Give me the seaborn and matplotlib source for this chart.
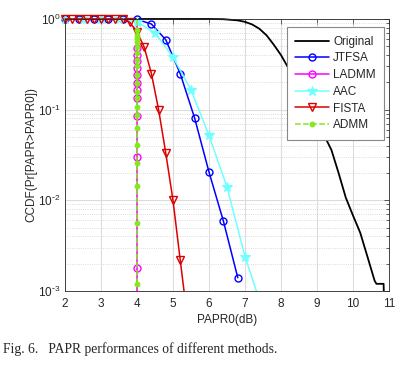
import numpy as np
import pandas as pd
import matplotlib
matplotlib.use("Agg")
import matplotlib.pyplot as plt
import seaborn as sns
from matplotlib.patches import Rectangle
from matplotlib.lines import Line2D
from matplotlib.ticker import FixedLocator, FixedFormatter

# ---- data ----
orig_x = [2, 3, 4, 5, 6, 6.4, 6.8, 7.0, 7.2, 7.4, 7.6, 7.8, 8.0, 8.2, 8.6, 9.0, 9.2,
          9.4, 9.6, 9.8, 10.0, 10.2, 10.4, 10.6, 10.65, 10.85, 10.9]
orig_y = [1, 1, 1, 1, 1, 0.995, 0.965, 0.93, 0.87, 0.78, 0.66, 0.52, 0.40, 0.29, 0.15,
          0.078, 0.052, 0.036, 0.02, 0.0107, 0.0068, 0.0044, 0.0024, 0.0013, 0.0012,
          0.0012, 0.0002]

jtfsa_x = [2.0, 2.4, 2.8, 3.2, 3.6, 4.0, 4.4, 4.8, 5.2, 5.6, 6.0, 6.4, 6.8]
jtfsa_y = [1, 1, 1, 1, 1, 0.99, 0.88, 0.59, 0.25, 0.081, 0.0205, 0.0059, 0.0014]

ladmm_x = [4.0, 4.0, 4.0, 4.0, 4.0, 4.0, 4.0, 4.0, 4.0, 4.0, 4.0, 4.0, 4.0]
ladmm_y = [1.0, 0.48, 0.40, 0.34, 0.29, 0.24, 0.195, 0.165, 0.134, 0.085, 0.030,
           0.0018, 0.0002]

aac_x = [2.0, 2.5, 3.0, 3.5, 4.0, 4.5, 5.0, 5.5, 6.0, 6.5, 7.0, 7.5]
aac_y = [1, 1, 1, 1, 0.93, 0.70, 0.38, 0.165, 0.052, 0.014, 0.0024, 0.0006]

fista_x = [2.0, 2.2, 2.4, 2.6, 2.8, 3.0, 3.2, 3.4, 3.6, 3.8, 4.0, 4.2, 4.4, 4.6,
           4.8, 5.0, 5.2, 5.4]
fista_y = [1, 1, 1, 1, 1, 1, 1, 1, 1, 0.92, 0.72, 0.49, 0.25, 0.10, 0.033, 0.010,
           0.0022, 0.0005]

admm_x = [4.0] * 22
admm_y = [1.0, 0.85, 0.76, 0.67, 0.62, 0.56, 0.49, 0.42, 0.35, 0.30, 0.24, 0.195,
          0.157, 0.134, 0.107, 0.087, 0.063, 0.041, 0.026, 0.0144, 0.0056, 0.0012]

ytick_vals = [1e-3, 1e-2, 1e-1, 1]
ytick_labels = [r'$10^{\text{-}3}$', r'$10^{\text{-}2}$', r'$10^{\text{-}1}$', r'$10^{0}$']

# ---- style ----
sns.set_style("white")
plt.rcParams['font.family'] = ['Liberation Sans', 'DejaVu Sans']
plt.rcParams['mathtext.default'] = 'regular'

fig = plt.figure(figsize=(3.98, 3.68), dpi=100)
ax = fig.add_axes([65 / 398, 1 - 291 / 368, 324 / 398, 272 / 368])

# clip region: open above the axes so markers at 10^0 show fully, but lines stop at the bottom
clip = Rectangle((-0.05, 0), 1.1, 1.1, transform=ax.transAxes, facecolor='none')

green = '#85e81e'
series = [
    ("Original", orig_x, orig_y, dict(color='black', lw=1.3)),
    ("JTFSA", jtfsa_x, jtfsa_y, dict(color='#0000ff', lw=1.1, marker='o', ms=5,
                                     mfc='none', mec='#0000ff', mew=1.0)),
    ("LADMM", ladmm_x, ladmm_y, dict(color='#ff00ff', lw=1.1, marker='o', ms=5,
                                     mfc='none', mec='#ff00ff', mew=1.0,
                                     markevery=list(range(1, 12)))),
    ("AAC", aac_x, aac_y, dict(color='#70ffff', lw=1.1, marker='*', ms=7.5,
                               mfc='#70ffff', mec='#70ffff', mew=0.8)),
    ("FISTA", fista_x, fista_y, dict(color='#dd0000', lw=1.1, marker='v', ms=5.5,
                                     mfc='none', mec='#dd0000', mew=1.0)),
    ("ADMM", admm_x, admm_y, dict(color=green, lw=1.1, ls='--', marker='o', ms=4.2,
                                  mfc=green, mec=green, mew=0,
                                  markevery=list(range(2, 22)))),
]

for name, xs, ys, kw in series:
    df = pd.DataFrame({'x': xs, 'y': ys})
    sns.lineplot(data=df, x='x', y='y', ax=ax, estimator=None, sort=False, **kw)
    ax.lines[-1].set_clip_path(clip)

ax.set_yscale('log')
ax.set_xlim(2, 11)
ax.set_ylim(1e-3, 1)
ax.set_xticks(range(2, 12))
ax.yaxis.set_major_locator(FixedLocator(ytick_vals))
ax.yaxis.set_major_formatter(FixedFormatter(ytick_labels))
ax.set_xlabel('PAPR0(dB)', fontsize=8.5, labelpad=3)
ax.set_ylabel('CCDF(Pr[PAPR>PAPR0])', fontsize=8.5, labelpad=1)

ax.grid(True, which='major', color='#dcdcdc', lw=0.8, ls='-')
ax.grid(True, which='minor', axis='y', color='#d0d0d0', lw=0.6, ls=':')
ax.set_axisbelow(True)
ax.tick_params(which='both', direction='in', top=True, right=True, labelsize=8.5,
               colors='#262626')
ax.tick_params(axis='x', pad=5)
ax.tick_params(axis='y', pad=3)
ax.tick_params(which='major', length=3.5, width=0.5)
ax.tick_params(which='minor', length=2, width=0.5)
for sp in ax.spines.values():
    sp.set_color('#262626')
    sp.set_linewidth(0.6)

handles = []
for name, xs, ys, kw in series:
    h = Line2D([0], [0], color=kw['color'], lw=kw['lw'], ls=kw.get('ls', '-'),
               marker=kw.get('marker'), ms=kw.get('ms', 5), mfc=kw.get('mfc', kw['color']),
               mec=kw.get('mec', kw['color']), mew=kw.get('mew', 1.0))
    handles.append(h)
leg = ax.legend(handles, [s[0] for s in series], loc='upper right',
                bbox_to_anchor=(0.985, 0.97), borderaxespad=0, fontsize=8.5,
                handlelength=2.9, handletextpad=0.3, labelspacing=0.4, borderpad=0.72,
                fancybox=False, framealpha=1, edgecolor='#888888')
leg.get_frame().set_linewidth(0.8)

fig.text(3 / 398, 1 - 349 / 368, 'Fig. 6.   PAPR performances of different methods.',
         family='Liberation Serif', fontsize=9.8, va='center', ha='left')

fig.savefig('out.png', dpi=100)
